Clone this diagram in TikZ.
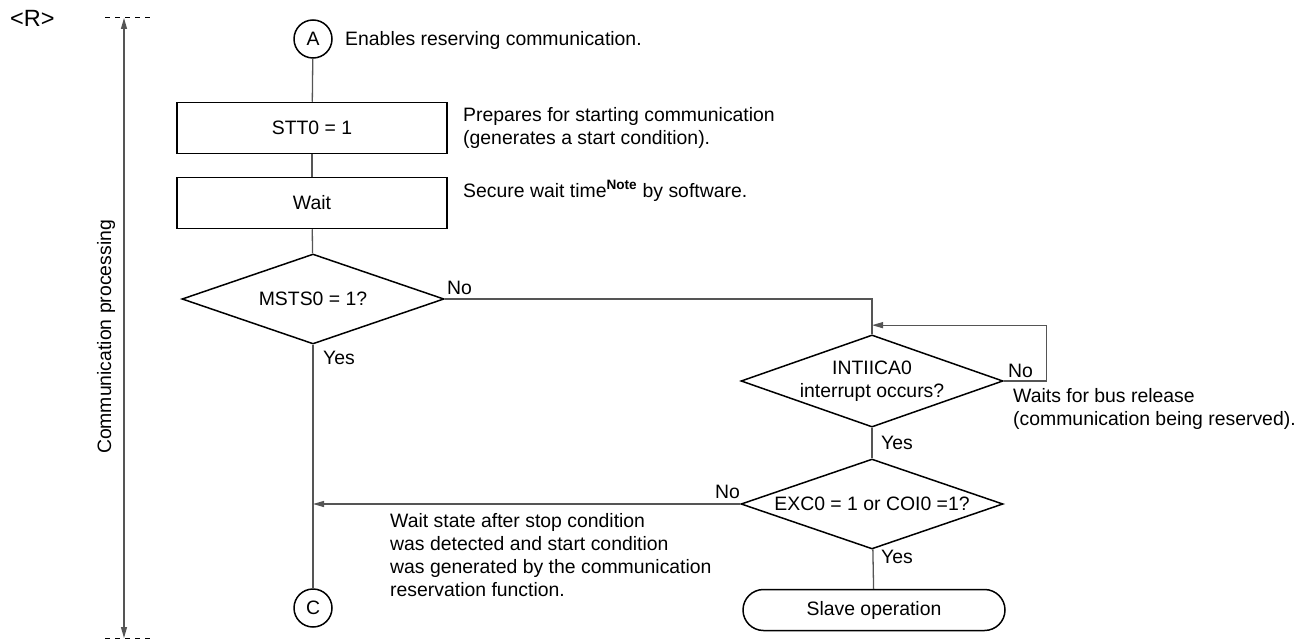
\documentclass[tikz,border=0pt]{standalone}
\usepackage{fontspec}
\setmainfont{Liberation Sans}
\usetikzlibrary{arrows.meta,shapes.geometric,shapes.misc,positioning,calc}
\definecolor{linegray}{HTML}{555555}

\begin{document}
\begin{tikzpicture}[x=1pt,y=-1pt,>={Triangle[length=11pt,width=6pt]},
  font=\fontsize{19.4}{23}\selectfont,
  conn/.style={draw=linegray,line width=1.3pt},
  outline/.style={draw=black,line width=1.5pt},
  procbox/.style={outline,rectangle,minimum width=270pt,minimum height=51pt,inner sep=0pt},
  decision/.style={outline,diamond,aspect=2.9,minimum width=262pt,minimum height=90pt,inner sep=0pt,align=center},
  connector/.style={outline,circle,minimum size=38pt,inner sep=0pt},
  terminal/.style={outline,rounded rectangle,minimum width=262pt,minimum height=41pt,inner sep=0pt},
  note/.style={anchor=west,align=left,inner sep=0pt}]
\useasboundingbox (0,0) rectangle (1305,639);
% side marker and range arrow
\node[note,font=\fontsize{23.5}{26}\selectfont] (rmark) at (10,18) {<R>};
\coordinate (top) at (124,18);
\coordinate (bot) at (124,638);
\draw[linegray,line width=1.2pt,<->] (top) -- (bot);
\draw[dashed,dash pattern=on 5pt off 5pt,line width=1pt] (105,18) -- (150,18);
\draw[dashed,dash pattern=on 5pt off 5pt,line width=1pt] (105,638) -- (150,638);
\node[rotate=90] (side) at (106,337) {Communication processing};
% main column
\node[connector] (A) at (313,39) {A};
\node[note] (noteA) at (345,40) {Enables reserving communication.};
\node[procbox] (stt) at (312,128) {STT0 = 1};
\node[note] (noteStt) at (463,128) {Prepares for starting communication\\(generates a start condition).};
\node[procbox] (wait) at (312,203) {Wait};
\node[note] (noteWait) at (463,191) {Secure wait time\textsuperscript{\bfseries Note} by software.};
\node[decision] (msts) at (313,299) {MSTS0 = 1?};
\node[connector] (C) at (313,608) {C};
\draw[conn] (A) -- (stt);
\draw[conn] (stt) -- (wait);
\draw[conn] (wait) -- (msts);
\draw[conn] (msts) -- (C);
\node[note] (mstsNo) at (447,288) {No};
\node[note] (mstsYes) at (323,358) {Yes};
% bus release loop
\node[decision,aspect=2.8] (intr) at (872,381) {INTIICA0\\interrupt occurs?};
\draw[conn] (msts.east) -| (intr.north);
\coordinate (loop) at ($(intr.north)+(0,-9)$);
\draw[conn,->] (intr.east) -- ++(43,0) |- (loop);
\node[note] (intrNo) at (1008,371) {No};
\node[note] (noteLoop) at (1013,409) {Waits for bus release\\(communication being reserved).};
\node[note] (intrYes) at (881,443) {Yes};
% slave check
\node[decision] (exc) at (872,504) {EXC0 = 1 or COI0 =1?};
\node[terminal] (slave) at (874,610) {Slave operation};
\draw[conn] (intr) -- (exc);
\draw[conn] (exc) -- (slave);
\coordinate (join) at (A |- exc.west);
\draw[conn,->] (exc.west) -- (join);
\node[note] (excNo) at (715,492) {No};
\node[note] (excYes) at (881,557) {Yes};
\node[note] (noteJoin) at (390,555) {Wait state after stop condition\\was detected and start condition\\was generated by the communication\\reservation function.};
\end{tikzpicture}
\end{document}
